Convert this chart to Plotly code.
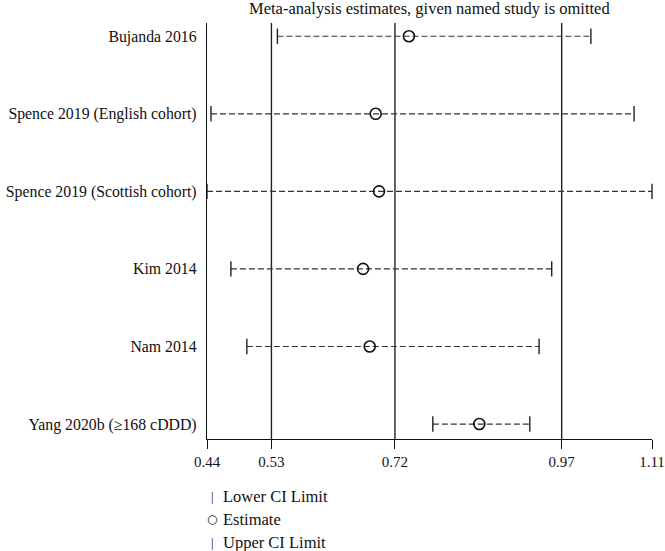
import plotly.graph_objects as go

# --- Data ---
studies = [
    "Bujanda 2016",
    "Spence 2019 (English cohort)",
    "Spence 2019 (Scottish cohort)",
    "Kim 2014",
    "Nam 2014",
    "Yang 2020b (≥168 cDDD)",
]
lower = [0.546, 0.446, 0.440, 0.476, 0.500, 0.780]
estimate = [0.744, 0.694, 0.699, 0.675, 0.685, 0.850]
upper = [1.018, 1.083, 1.110, 0.959, 0.940, 0.926]

# overall estimate with CI (vertical reference lines)
overall = [0.537, 0.723, 0.974]

tick_vals = [0.44, 0.537, 0.723, 0.974, 1.11]
tick_text = ["0.44", "0.53", "0.72", "0.97", "1.11"]

legend_labels = ["Lower CI Limit", "Estimate", "Upper CI Limit"]

FONT = "Liberation Serif"
INK = "#111111"
n = len(studies)
ypos = [n - i for i in range(n)]

fig = go.Figure()

# dashed CI lines
for y, lo, hi in zip(ypos, lower, upper):
    fig.add_trace(go.Scatter(
        x=[lo, hi], y=[y, y], mode="lines",
        line=dict(color="#333333", width=1.2, dash="6px,3px"),
        showlegend=False, hoverinfo="skip", cliponaxis=False,
    ))

# caps and estimates
cap = dict(symbol="line-ns-open", size=11, color="#222222", line=dict(color="#222222", width=1.4))
fig.add_trace(go.Scatter(x=lower, y=ypos, mode="markers", name=legend_labels[0],
                         marker=cap, showlegend=False, cliponaxis=False))
fig.add_trace(go.Scatter(x=upper, y=ypos, mode="markers", name=legend_labels[2],
                         marker=cap, showlegend=False, cliponaxis=False))
fig.add_trace(go.Scatter(
    x=estimate, y=ypos, mode="markers", name=legend_labels[1],
    marker=dict(symbol="circle-open", size=11, color=INK, line=dict(color=INK, width=1.6)),
    showlegend=False, cliponaxis=False,
))

# vertical reference lines
for v in overall:
    fig.add_shape(type="line", x0=v, x1=v, y0=0, y1=1, xref="x", yref="paper",
                  line=dict(color="#222222", width=1.4), layer="below")

# title
fig.add_annotation(
    text="Meta-analysis estimates, given named study is omitted",
    xref="paper", yref="paper", x=0.5, y=1, yanchor="bottom", yshift=3,
    showarrow=False, font=dict(family=FONT, size=16.5, color=INK),
)

# legend drawn as annotations below the axis
legend_syms = ["|", "○", "|"]
for i, (sym, lab) in enumerate(zip(legend_syms, legend_labels)):
    fig.add_annotation(
        text=sym, xref="paper", yref="paper", x=0, y=0, xshift=5, yshift=-57 - i * 23,
        xanchor="center", yanchor="middle", showarrow=False,
        font=dict(family=FONT if sym == "|" else "DejaVu Sans", size=13 if sym == "|" else 12,
                  color=INK),
    )
    fig.add_annotation(
        text=lab, xref="paper", yref="paper", x=0, y=0, xshift=14, yshift=-57 - i * 23,
        xanchor="left", yanchor="middle", showarrow=False,
        font=dict(family=FONT, size=16.5, color=INK),
    )

fig.update_xaxes(
    range=[0.44, 1.11], tickvals=tick_vals, ticktext=tick_text,
    showline=True, linecolor=INK, linewidth=1.4,
    ticks="outside", ticklen=9, tickwidth=1.4, tickcolor=INK,
    showgrid=False, zeroline=False, automargin=False,
    tickfont=dict(family=FONT, size=15, color=INK),
)
fig.update_yaxes(
    range=[0.807, n + 0.171], tickvals=ypos, ticktext=studies,
    showline=True, linecolor=INK, linewidth=1.4,
    ticks="", showgrid=False, zeroline=False, ticklabelstandoff=6, automargin=False,
    tickfont=dict(family=FONT, size=15.8, color=INK),
)

fig.update_layout(
    width=665, height=551,
    margin=dict(l=207, r=13, t=23, b=112),
    plot_bgcolor="white", paper_bgcolor="white",
    showlegend=False,
    font=dict(family=FONT, size=15, color=INK),
)

fig.write_html(
    "out.html",
    config={"displayModeBar": False},
    post_script="document.body.style.margin='0';document.body.style.overflow='hidden';",
)
